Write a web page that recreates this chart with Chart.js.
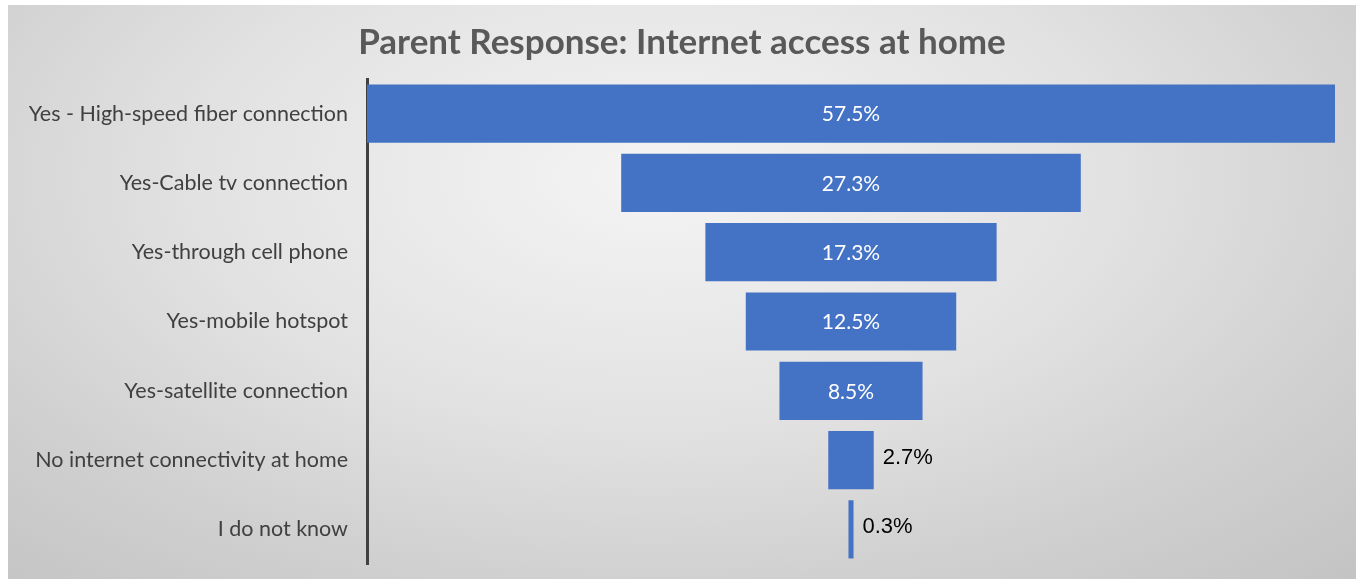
<!DOCTYPE html>
<html>
<head>
<meta charset="utf-8">
<title>Parent Response: Internet access at home</title>
<script src="https://cdn.jsdelivr.net/npm/chart.js@4/dist/chart.umd.min.js"></script>
<style>
  html, body { margin: 0; padding: 0; background: #ffffff; }
  #wrap { position: relative; width: 1356px; height: 579px; overflow: hidden; }
  #bg {
    position: absolute; left: 8px; top: 5px; right: 0; bottom: 0;
    background: radial-gradient(ellipse 75% 95% at 48% 30%, #f4f4f4 0%, #e2e2e2 45%, #d0d0d0 75%, #c4c4c4 100%);
  }
  #chart { position: absolute; left: 0; top: 0; }
</style>
</head>
<body>
<div id="wrap">
  <div id="bg"></div>
  <canvas id="chart" width="1356" height="579"></canvas>
</div>
<script>
// Chart data
const categories = [
    'Yes - High-speed fiber connection',
    'Yes-Cable tv connection',
    'Yes-through cell phone',
    'Yes-mobile hotspot',
    'Yes-satellite connection',
    'No internet connectivity at home',
    'I do not know'
];
const percentages = [57.5, 27.3, 17.3, 12.5, 8.5, 2.7, 0.3];

const labelFont = 'Lato, "Open Sans", sans-serif';
const barColor = '#4472C4';

// funnel: each bar is centred on zero
const funnelRanges = percentages.map(function (v) { return [-v / 2, v / 2]; });
const halfMax = Math.max.apply(null, percentages) / 2;

// Value labels: white inside wide bars, black to the right of narrow ones
const valueLabels = {
    id: 'valueLabels',
    afterDatasetsDraw: function (chart) {
        const ctx = chart.ctx;
        const meta = chart.getDatasetMeta(0);
        ctx.save();
        ctx.textBaseline = 'middle';
        meta.data.forEach(function (bar, i) {
            const text = percentages[i].toFixed(1) + '%';
            const w = Math.abs(bar.x - bar.base);
            if (w > 80) {
                ctx.font = '21px ' + labelFont;
                ctx.fillStyle = '#ffffff';
                ctx.textAlign = 'center';
                ctx.fillText(text, (bar.x + bar.base) / 2, bar.y + 1);
            } else {
                ctx.font = '22px "Liberation Sans", Arial, sans-serif';
                ctx.fillStyle = '#000000';
                ctx.textAlign = 'left';
                ctx.fillText(text, Math.max(bar.x, bar.base) + 9, bar.y - 2);
            }
        });
        ctx.restore();
    }
};

new Chart(document.getElementById('chart'), {
    type: 'bar',
    data: {
        labels: categories,
        datasets: [{
            data: funnelRanges,
            backgroundColor: barColor,
            borderWidth: 0,
            borderSkipped: false,
            categoryPercentage: 1,
            barPercentage: 0.84
        }]
    },
    options: {
        indexAxis: 'y',
        responsive: false,
        animation: false,
        devicePixelRatio: 1,
        layout: {
            padding: { left: 29, right: 21, top: 0, bottom: 15 }
        },
        plugins: {
            legend: { display: false },
            tooltip: { enabled: false },
            title: {
                display: true,
                text: 'Parent Response: Internet access at home',
                color: '#595959',
                font: { family: labelFont, size: 35, weight: 'bold' },
                padding: { top: 22, bottom: 15 }
            }
        },
        scales: {
            x: {
                display: false,
                min: -halfMax,
                max: halfMax
            },
            y: {
                grid: { display: false },
                border: { display: true, color: '#404040', width: 3 },
                ticks: {
                    color: '#404040',
                    padding: 11,
                    font: { family: labelFont, size: 21.5 }
                },
                afterFit: function (scale) {
                    scale.width = 338;
                    scale.paddingTop = 0;
                    scale.paddingBottom = 0;
                }
            }
        }
    },
    plugins: [valueLabels]
});
</script>
</body>
</html>
